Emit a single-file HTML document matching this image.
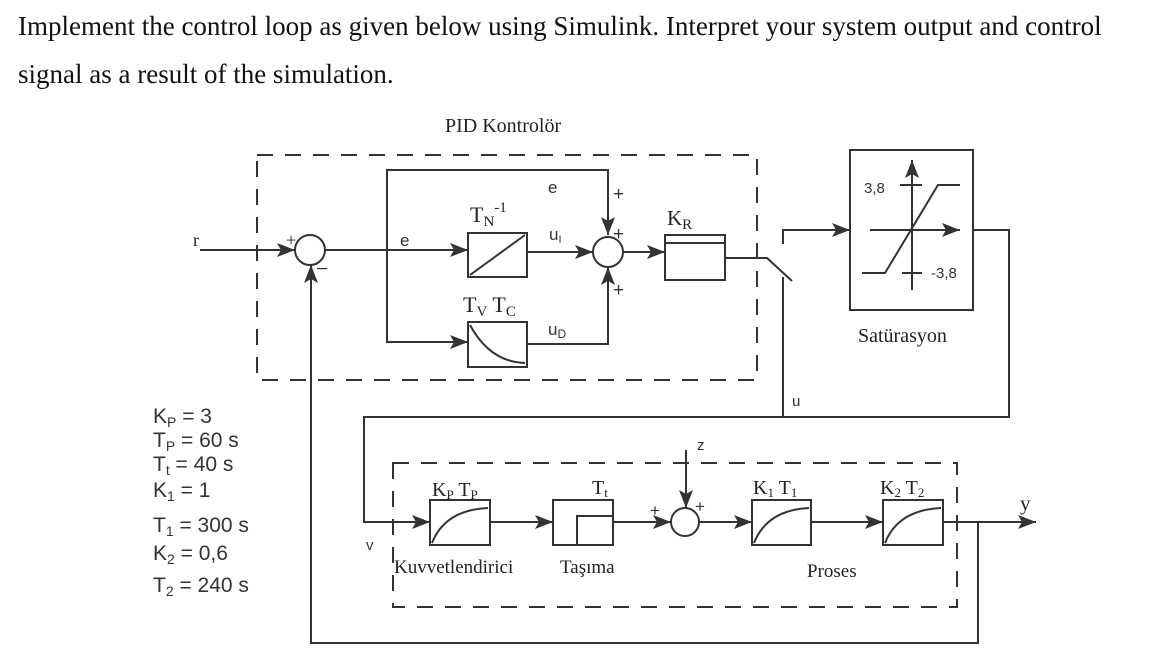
<!DOCTYPE html>
<html><head><meta charset="utf-8"><style>
html,body{margin:0;padding:0;background:#fff;width:1170px;height:672px;overflow:hidden}
svg{display:block}
.s{font-family:"Liberation Serif",serif;fill:#222}
.a{font-family:"Liberation Sans",sans-serif;fill:#333}
</style></head><body>
<svg width="1170" height="672" viewBox="0 0 1170 672" xmlns="http://www.w3.org/2000/svg">
<defs>
<marker id="m" markerWidth="20" markerHeight="14" refX="18" refY="7" orient="auto" markerUnits="userSpaceOnUse"><path d="M0,0 L18,7 L0,14 L4,7 z" fill="#333"/></marker></defs>
<text x="18" y="35" class="s" font-size="27" style="fill:#111">Implement the control loop as given below using Simulink. Interpret your system output and control</text>
<text x="18" y="83" class="s" font-size="27" style="fill:#111">signal as a result of the simulation.</text>
<g stroke="#333" stroke-width="2" fill="none">
<rect x="257" y="155" width="500" height="225" stroke-dasharray="16,12"/>
<line x1="200" y1="250" x2="295" y2="250" marker-end="url(#m)"/>
<circle cx="310" cy="250" r="15"/>
<line x1="325" y1="250" x2="468" y2="250" marker-end="url(#m)"/>
<polyline points="387,250 387,170 608,170 608,235" marker-end="url(#m)"/>
<polyline points="387,250 387,342 468,342" marker-end="url(#m)"/>
<rect x="468" y="233" width="59" height="44"/>
<line x1="470" y1="275" x2="525" y2="235"/>
<rect x="468" y="322" width="59" height="45"/>
<path d="M470,325 Q490,362 525,363"/>
<line x1="527" y1="252" x2="593" y2="252" marker-end="url(#m)"/>
<polyline points="527,344 608,344 608,267" marker-end="url(#m)"/>
<circle cx="608" cy="252" r="15"/>
<line x1="623" y1="252" x2="665" y2="252" marker-end="url(#m)"/>
<rect x="665" y="235" width="60" height="45"/>
<line x1="665" y1="243" x2="725" y2="243"/>
<polyline points="725,258 767,258 792,281"/>
<line x1="783" y1="277" x2="783" y2="417"/>
<polyline points="783,244 783,230 850,230" marker-end="url(#m)"/>
<rect x="850" y="150" width="123" height="160"/>
<line x1="912" y1="290" x2="912" y2="160" marker-end="url(#m)"/>
<line x1="870" y1="230" x2="960" y2="230" marker-end="url(#m)"/>
<polyline points="862,273 885,273 938,185 960,185"/>
<line x1="900" y1="185" x2="922" y2="185"/>
<line x1="902" y1="273" x2="922" y2="273"/>
<polyline points="973,230 1009,230 1009,417 364,417 364,522 430,522" marker-end="url(#m)"/>
<polyline points="978,522 978,643 311,643 311,265" marker-end="url(#m)"/>
<rect x="393" y="463" width="564" height="144" stroke-dasharray="16,12"/>
<rect x="430" y="500" width="60" height="45"/>
<path d="M432,543 Q445,510 488,508"/>
<line x1="490" y1="522" x2="553" y2="522" marker-end="url(#m)"/>
<rect x="553" y="500" width="60" height="45"/>
<polyline points="577,545 577,516 613,516"/>
<line x1="613" y1="522" x2="671" y2="522" marker-end="url(#m)"/>
<circle cx="685" cy="522" r="14"/>
<line x1="686" y1="450" x2="686" y2="508" marker-end="url(#m)"/>
<line x1="699" y1="522" x2="752" y2="522" marker-end="url(#m)"/>
<rect x="752" y="500" width="59" height="45"/>
<path d="M754,543 Q767,510 809,508"/>
<line x1="811" y1="522" x2="883" y2="522" marker-end="url(#m)"/>
<rect x="883" y="500" width="60" height="45"/>
<path d="M885,543 Q898,510 941,508"/>
<line x1="943" y1="522" x2="1036" y2="522" marker-end="url(#m)"/>
</g>
<text x="445" y="132" class="s" font-size="20">PID Kontrolör</text>
<text x="193" y="246" class="s" font-size="18">r</text>
<text x="286" y="246" class="s" font-size="18">+</text>
<text x="316" y="276" class="s" font-size="22">−</text>
<text x="400" y="246" class="a" font-size="17">e</text>
<text x="548" y="193" class="a" font-size="17">e</text>
<text x="470" y="222" class="s" font-size="22">T<tspan font-size="15" dy="4">N</tspan><tspan font-size="15" dy="-14">-1</tspan></text>
<text x="549" y="240" class="a" font-size="17">u<tspan font-size="11" dy="3">I</tspan></text>
<text x="463" y="312" class="s" font-size="22">T<tspan font-size="15" dy="4">V</tspan><tspan dy="-4"> T</tspan><tspan font-size="15" dy="4">C</tspan></text>
<text x="548" y="335" class="a" font-size="17">u<tspan font-size="12" dy="3">D</tspan></text>
<text x="613" y="200" class="a" font-size="19">+</text>
<text x="613" y="240" class="a" font-size="19">+</text>
<text x="613" y="296" class="a" font-size="19">+</text>
<text x="667" y="225" class="s" font-size="21">K<tspan font-size="15" dy="4">R</tspan></text>
<text x="864" y="193" class="a" font-size="15">3,8</text>
<text x="931" y="278" class="a" font-size="15">-3,8</text>
<text x="858" y="342" class="s" font-size="20">Satürasyon</text>
<text x="792" y="406" class="a" font-size="15">u</text>
<text x="697" y="450" class="a" font-size="15">z</text>
<text x="1020" y="510" class="s" font-size="21">y</text>
<text x="366" y="550" class="a" font-size="15">v</text>
<text x="650" y="516" class="a" font-size="17">+</text>
<text x="695" y="512" class="a" font-size="17">+</text>
<text x="432" y="496" class="s" font-size="20">K<tspan font-size="13" dy="3">P</tspan><tspan dy="-3">  T</tspan><tspan font-size="13" dy="3">P</tspan></text>
<text x="592" y="494" class="s" font-size="20">T<tspan font-size="13" dy="3">t</tspan></text>
<text x="753" y="494" class="s" font-size="20">K<tspan font-size="13" dy="3">1</tspan><tspan dy="-3">  T</tspan><tspan font-size="13" dy="3">1</tspan></text>
<text x="880" y="494" class="s" font-size="20">K<tspan font-size="13" dy="3">2</tspan><tspan dy="-3">  T</tspan><tspan font-size="13" dy="3">2</tspan></text>
<text x="394" y="573" class="s" font-size="19">Kuvvetlendirici</text>
<text x="560" y="573" class="s" font-size="19">Taşıma</text>
<text x="807" y="577" class="s" font-size="19">Proses</text>
<g class="a" font-size="21">
<text x="153" y="423">K<tspan font-size="14" dy="4">P</tspan><tspan dy="-4"> = 3</tspan></text>
<text x="153" y="447">T<tspan font-size="14" dy="4">P</tspan><tspan dy="-4"> = 60 s</tspan></text>
<text x="153" y="471">T<tspan font-size="14" dy="4">t</tspan><tspan dy="-4"> = 40 s</tspan></text>
<text x="153" y="497">K<tspan font-size="14" dy="4">1</tspan><tspan dy="-4"> = 1</tspan></text>
<text x="153" y="532">T<tspan font-size="14" dy="4">1</tspan><tspan dy="-4"> = 300 s</tspan></text>
<text x="153" y="560">K<tspan font-size="14" dy="4">2</tspan><tspan dy="-4"> = 0,6</tspan></text>
<text x="153" y="592">T<tspan font-size="14" dy="4">2</tspan><tspan dy="-4"> = 240 s</tspan></text>
</g>
</svg>
</body></html>
